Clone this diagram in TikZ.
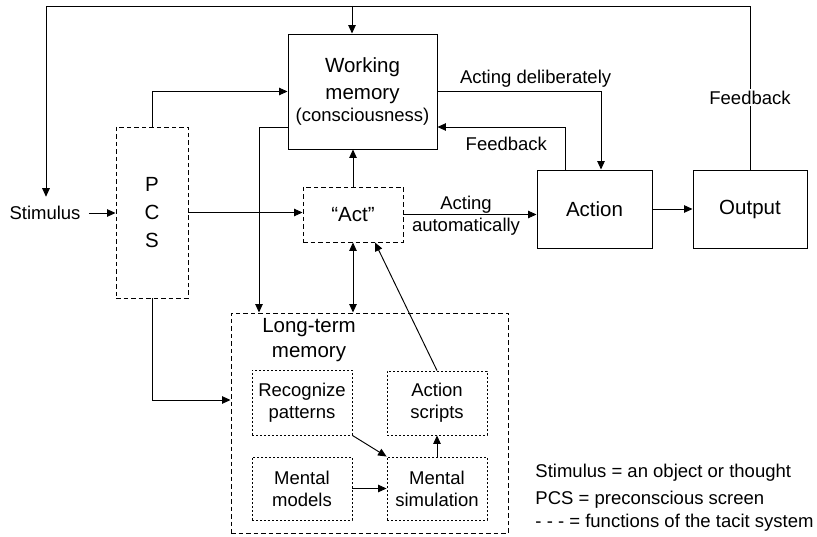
\documentclass[tikz,border=0pt]{standalone}
\usepackage{fontspec}
\setmainfont{Liberation Sans}
\usetikzlibrary{arrows.meta,calc}
\begin{document}
\begin{tikzpicture}[x=1pt,y=-1pt,
  line width=0.95pt,
  >={Triangle[length=8.5pt,width=7.5pt]},
  txt/.style={font=\fontsize{18.5}{22}\selectfont, align=center, inner sep=0pt},
  bigtxt/.style={font=\fontsize{20.5}{27}\selectfont, align=center, inner sep=0pt},
  solidbox/.style={draw, bigtxt},
  dashbox/.style={draw, bigtxt, dash pattern=on 4.5pt off 3pt},
  dotbox/.style={draw, txt, line width=0.9pt, dash pattern=on 2pt off 2pt},
]
\useasboundingbox (0,0) rectangle (817,537);

% main blocks
\node[solidbox, minimum width=149pt, minimum height=115pt] (wm) at (362.5,91.5)
  {Working\\memory\\[-5pt]{\fontsize{18.5}{22}\selectfont (consciousness)}};
\node[dashbox, minimum width=72pt, minimum height=171pt,
      font=\fontsize{20.5}{28}\selectfont] (pcs) at (152,212.5) {P\\C\\S};
\node[dashbox, minimum width=100pt, minimum height=55pt] (act) at (353,214.5) {“Act”};
\node[solidbox, minimum width=115pt, minimum height=78pt] (action) at (594.5,209) {Action};
\node[solidbox, minimum width=114pt, minimum height=78pt] (out) at (750,209) {Output};
\node[txt, inner xsep=8pt, inner ysep=9pt] (stim) at (45,213) {Stimulus};

% long-term memory and its parts
\node[dashbox, minimum width=277pt, minimum height=220pt] (ltm) at (369.5,423) {};
\node[bigtxt, font=\fontsize{20.5}{25}\selectfont] (ltmtxt) at (309,340) {Long-term\\memory};
\node[dotbox, minimum width=100pt, minimum height=65pt] (rp) at (302,402.5) {Recognize\\patterns};
\node[dotbox, minimum width=100pt, minimum height=64pt] (as) at (437,403) {Action\\scripts};
\node[dotbox, minimum width=100pt, minimum height=63pt] (mm) at (302,488.5) {Mental\\models};
\node[dotbox, minimum width=100pt, minimum height=63pt] (ms) at (437,488.5) {Mental\\simulation};

% legend
\node[txt, anchor=base west] (leg1) at (535,477) {Stimulus = an object or thought};
\node[txt, anchor=base west] (leg2) at (535,504) {PCS = preconscious screen};
\node[txt, anchor=base west] (leg3) at (535,527) {- - - = functions of the tacit system};

% outer feedback loop
\coordinate (tl) at (46,6);
\coordinate (tj) at (352,6);
\draw[->] (out.north) |- node[pos=0.22, txt, fill=white, inner ysep=2pt]{Feedback} (tl) -- (tl |- stim.north);
\draw[->] (tj) -- (tj |- wm.north);

% connectors
\draw[->] (stim.east) -- (stim.east -| pcs.west);
\draw[->] (pcs.north) |- (wm.west);
\draw[->] (pcs.east) -- (pcs.east -| act.west);
\draw[->] (act.north) -- (act.north |- wm.south);
\draw[->] ($(wm.west)+(0,35.5)$) -| ($(ltm.north)+(-110.5,0)$);
\draw[<->] (act.south) -- (act.south |- ltm.north);
\draw[->] (as.north) -- ($(act.south)+(22,0)$);
\draw[->] (pcs.south) |- ($(ltm.west)+(0,-23)$);
\draw[->] (rp.south east) -- (ms.north west);
\draw[->] (mm.east) -- (ms.west);
\draw[->] (ms.north) -- (as.south);
\draw[->] (act.east) -- node[pos=0.47, above=1pt, txt]{Acting}
  node[pos=0.47, below=3pt, txt]{automatically} (act.east -| action.west);
\draw[->] (action.east) -- (out.west);
\draw[->] (wm.east) -| node[pos=0.3, above=4pt, txt]{Acting deliberately} ($(action.north)+(6.5,0)$);
\draw[->] ($(action.north)+(-29.5,0)$) |- node[pos=0.73, below=10pt, txt]{Feedback} ($(wm.east)+(0,35.5)$);
\end{tikzpicture}
\end{document}
